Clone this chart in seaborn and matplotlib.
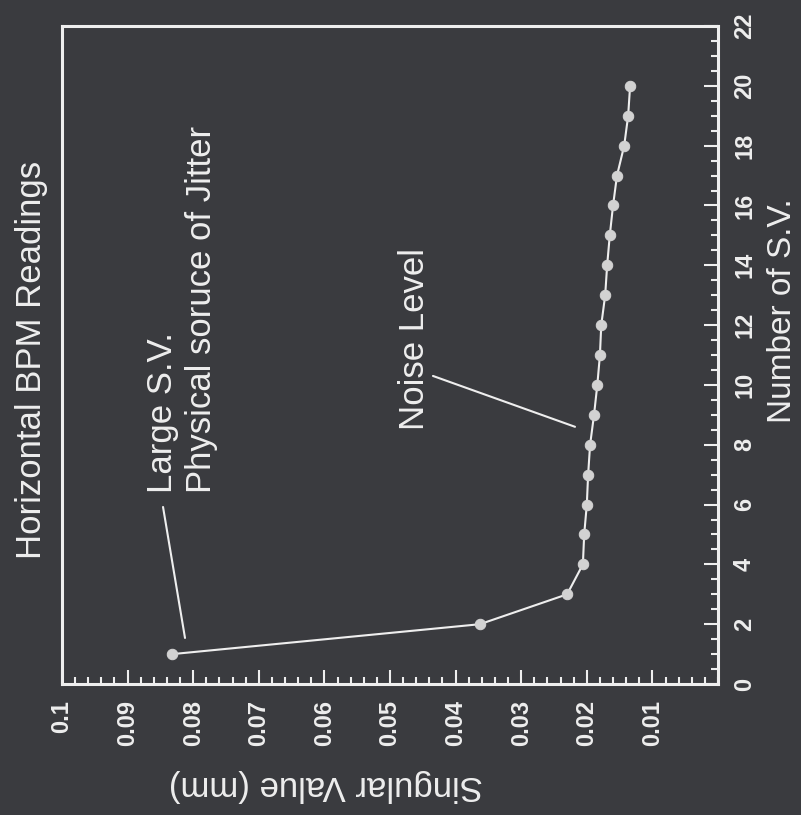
import numpy as np
import pandas as pd
import seaborn as sns
import matplotlib.pyplot as plt
from matplotlib.ticker import MultipleLocator

sv_index = list(range(1, 21))
sv_values = [0.0832, 0.0363, 0.0230, 0.0206, 0.0204, 0.0200, 0.0198, 0.0195, 0.0189, 0.0184,
             0.0180, 0.0178, 0.0172, 0.0169, 0.0165, 0.0160, 0.0154, 0.0143, 0.0137, 0.0134]

sv_ticks = [0.1, 0.09, 0.08, 0.07, 0.06, 0.05, 0.04, 0.03, 0.02, 0.01]
sv_tick_labels = ["0.1", "0.09", "0.08", "0.07", "0.06", "0.05", "0.04", "0.03", "0.02", "0.01"]
n_ticks = list(range(0, 23, 2))

title = "Horizontal BPM Readings"
xlabel = "Singular Value (mm)"
ylabel = "Number of S.V."
note_large = "Large S.V.\nPhysical soruce of Jitter"
note_noise = "Noise Level"

bg = "#3a3b3f"
fg = "#eeeeee"
dot = "#d2d2d2"

sns.set_theme(style="dark")
plt.rcParams.update({
    "figure.facecolor": bg,
    "axes.facecolor": bg,
    "axes.edgecolor": fg,
    "text.color": fg,
    "xtick.color": fg,
    "ytick.color": fg,
    "axes.labelcolor": fg,
})
plt.rcParams["font.family"] = ["Liberation Sans", "DejaVu Sans"]

df = pd.DataFrame({"sv": sv_values, "n": sv_index})

fig = plt.figure(figsize=(8.01, 8.15), dpi=100)
ax = fig.add_axes([0.0774, 0.1607, 0.819, 0.8074])

# the whole chart is turned a quarter turn: values run along x (reversed), index along y
sns.lineplot(data=df, x="sv", y="n", sort=False, estimator=None, color=fg, lw=1.5,
             marker="o", markersize=7.5, markerfacecolor=dot, markeredgecolor=dot, ax=ax)

ax.set_xlim(0.1, 0)
ax.set_ylim(0, 22)
ax.grid(False)
for s in ax.spines.values():
    s.set_visible(True)
    s.set_color(fg)
    s.set_linewidth(2.2)

ax.set_xticks(sv_ticks)
ax.set_xticklabels(sv_tick_labels)
ax.xaxis.set_minor_locator(MultipleLocator(0.002))
ax.yaxis.tick_right()
ax.yaxis.set_label_position("right")
ax.set_yticks(n_ticks)
ax.yaxis.set_minor_locator(MultipleLocator(0.5))

ax.tick_params(which="both", direction="in", color=fg, width=1.5)
ax.tick_params(which="major", length=10)
ax.tick_params(which="minor", length=5)
ax.tick_params(axis="x", which="both", bottom=True, top=False, labelrotation=90, pad=11.5, labelsize=17)
ax.tick_params(axis="y", which="both", left=False, right=True, labelleft=False, labelright=True,
               labelrotation=90, pad=10.8, labelsize=17)
for lab in ax.get_xticklabels():
    lab.set_fontweight("bold")
for lab in ax.get_yticklabels():
    lab.set_fontweight("bold")
    lab.set_va("center")

ax.set_xlabel(xlabel, rotation=180, fontsize=25)
ax.xaxis.set_label_coords(0.402, -0.1535)
ax.xaxis.label.set_va("center")
ax.set_ylabel(ylabel, rotation=90, fontsize=24)
ax.yaxis.set_label_coords(1.099, 0.568)
ax.yaxis.label.set_va("center")
ax.yaxis.label.set_ha("center")

ax.text(-0.047, 0.492, title, rotation=90, transform=ax.transAxes,
        ha="center", va="center", fontsize=25)

# call-outs
ax.text(0.0817, 6.39, note_large, rotation=90, ha="center", va="bottom",
        multialignment="left", fontsize=25)
ax.annotate("", xy=(0.08125, 1.54), xytext=(0.0846, 5.92),
            arrowprops=dict(arrowstyle="-", color=fg, lw=1.5, shrinkA=0, shrinkB=0))
ax.text(0.0463, 8.49, note_noise, rotation=90, ha="center", va="bottom", fontsize=25)
ax.annotate("", xy=(0.0218, 8.60), xytext=(0.04345, 10.30),
            arrowprops=dict(arrowstyle="-", color=fg, lw=1.5, shrinkA=0, shrinkB=0))

fig.savefig("out.png", dpi=100, facecolor=bg)
